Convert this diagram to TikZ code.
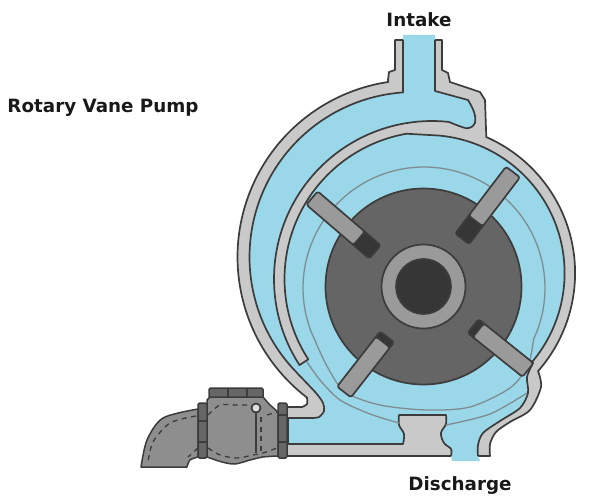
\documentclass[tikz,border=0pt]{standalone}
\usepackage{fontspec}
\setmainfont{DejaVu Sans}
\definecolor{wall}{HTML}{C9C9C9}
\definecolor{water}{HTML}{9AD7E9}
\definecolor{edge}{HTML}{3C3C3C}
\definecolor{ringc}{HTML}{7F8C92}
\definecolor{rotorc}{HTML}{656565}
\definecolor{steel}{HTML}{9A9A9A}
\definecolor{deep}{HTML}{363636}
\definecolor{valvec}{HTML}{8E8E8E}
\definecolor{flangec}{HTML}{666666}
\tikzset{
  wallline/.style={draw=edge,line width=1.7pt,line join=round},
  ringline/.style={draw=ringc,line width=1.3pt},
  valvepart/.style={draw=edge,line width=1.5pt,fill=valvec,line join=round},
  flangepart/.style={draw=edge,line width=1.5pt,fill=flangec,line join=round},
  dashline/.style={draw=edge,line width=1.3pt,dash pattern=on 5pt off 4.5pt},
  caption/.style={font=\bfseries\fontsize{18.3}{20}\selectfont,text=black!90,inner sep=0pt},
  arcplot/.style={smooth,samples=50}
}
\def\leftedge{-- (403,91) -- plot[arcplot,domain=94:224.6] ({414.5+165*cos(\x)},{257-165*sin(\x)})
 -- plot[smooth] coordinates {(297,373) (316,393) (323,403) (324,411) (319,417) (312,418)} -- (288,418) -- (288,444) -- (403,444)
 -- plot[smooth,tension=.6] coordinates {(403,444) (404,434) (399,425) (399,415)} -- (446,415) -- plot[smooth,tension=.6] coordinates {(446,415) (446,424) (441,433) (444,443) (451,449) (451,456)}}
\def\rightedge{-- plot[smooth] coordinates {(478,456) (478,445) (483,433) (500,421) (520,408) (528,393) (527,377) (533,363)}
 -- plot[arcplot,domain=-40:85] ({426.6+138*cos(\x)},{273-138*sin(\x)})
 -- plot[arcplot,domain=100:213] ({432+147.5*cos(\x)},{279-147.5*sin(\x)})
 -- plot[arcplot,domain=213:84] ({432+158*cos(\x)},{279-158*sin(\x)})
 -- plot[smooth,tension=.7] coordinates {(449,122) (462,127) (469,128) (475,123) (474,112) (468,100)} -- (435,91) -- (435,40)}
\newcommand{\vanepiece}[5]{% x,y,angle,light length,total length
  \begin{scope}[shift={(#1,#2)},rotate=#3]
    \draw[wallline,fill=deep,rounded corners=2.5pt] (#4-4,-8.8) rectangle (#5,8.8);
    \draw[wallline,fill=steel,rounded corners=2.5pt] (0,-8.8) rectangle (#4,8.8);
  \end{scope}}
\begin{document}
\begin{tikzpicture}[x=1pt,y=-1pt]
\useasboundingbox (0,0) rectangle (600,503);
% casing silhouette
\draw[wallline,fill=wall] (395,40) -- (395,70) -- (389,72) -- (388,80) -- plot[arcplot,domain=98.5:232.7] ({414.5+177*cos(\x)},{257-177*sin(\x)})
  -- plot[smooth] coordinates {(307,398) (307,404) (302,407)} -- (287,407) -- (287,456) -- (451,456) -- (490,456) -- plot[smooth] coordinates {(490,456) (490,444) (496,432) (510,422) (530,410) (541,387) (538,371)}
  -- plot[arcplot,domain=-41:66.3] ({426.6+148.5*cos(\x)},{273-148.5*sin(\x)})
  -- (485,100) -- (480,92) -- (450,82) -- (448,73) -- (442,70) -- (442,40) -- cycle;
% fluid
\fill[water] (403,35) -- (403,40) \leftedge -- (452,461) -- (480,461) -- (478,456) \rightedge -- (435,35) -- cycle;
\draw[wallline] (403,40) \leftedge;
\draw[wallline] (478,456) \rightedge;
% rings
\draw[ringline] plot[arcplot,domain=-25:207] ({424+121*cos(\x)},{288-121*sin(\x)})
  -- plot[smooth] coordinates {(316,343) (328,368) (345,392) (380,405) (427,410) (470,407) (510,388) (528,365) (533.6,339)};
\draw[ringline] plot[smooth] coordinates {(307,362) (320,380) (340,400) (370,414) (399,423)};
\draw[ringline] plot[smooth] coordinates {(446,425) (490,414) (527,393)};
% rotor
\draw[wallline,fill=rotorc] (423.5,286.5) circle (98);
\vanepiece{513}{172}{-127.3}{61.6}{84}
\vanepiece{312}{198}{-40.6}{62}{83}
\vanepiece{344}{392}{52}{63.4}{70}
\vanepiece{528}{370}{141.3}{63.6}{70.4}
\draw[wallline,fill=steel] (423.5,286.5) circle (42);
\draw[wallline,fill=deep] (423.5,286.5) circle (27.5);
% check valve
\draw[valvepart] (198,409) -- plot[smooth] coordinates {(198,409) (163,418) (147,440) (141,467)} -- (187,467) -- plot[smooth] coordinates {(187,467) (190,460) (198,457)} -- cycle;
\draw[dashline] plot[smooth] coordinates {(196,416) (170,423) (153,442) (148,462)};
\draw[dashline] plot[smooth] coordinates {(198,448) (188,457)};
\draw[flangepart,rounded corners=1.5pt] (209,388) rectangle (263,398);
\draw[edge,line width=1.2pt] (228,388) -- (228,398) (247,388) -- (247,398);
\draw[valvepart] (207,400) -- (210,397) -- (263,397) -- (270,405) -- (278,412) -- (278,456) -- plot[smooth] coordinates {(278,456) (263,457) (250,460) (235,464) (222,462) (207,457)} -- cycle;
\draw[flangepart,rounded corners=1.5pt] (198,403) rectangle (207,458);
\draw[edge,line width=1.2pt] (198,421) -- (207,421) (198,442) -- (207,442);
\draw[flangepart,rounded corners=1.5pt] (278,403) rectangle (287,458);
\draw[edge,line width=1.2pt] (278,415) -- (287,415) (278,442) -- (287,442);
\draw[dashline] plot[smooth] coordinates {(208,415) (220,405) (236,405) (252,405)};
\draw[dashline] plot[smooth] coordinates {(208,448) (220,455) (237,458) (253,455) (263,453) (277,448)};
\draw[dashline] (267,415) -- (277,412);
\draw[dashline] (261,417) -- (261,453);
\draw[edge,line width=1.4pt] (256,412) -- (256,453);
\draw[wallline,fill=wall!60!white] (256,408) circle (4.5);
% labels
\node[caption] (title) at (103,108) {Rotary Vane Pump};
\node[caption] (intake) at (419,20) {Intake};
\node[caption] (discharge) at (460,486) {Discharge};
\end{tikzpicture}
\end{document}
